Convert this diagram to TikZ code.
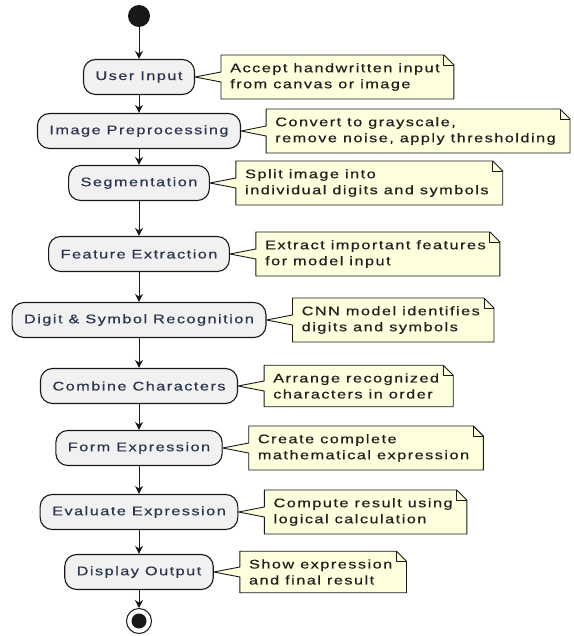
\documentclass[tikz,border=0pt]{standalone}
\usepackage{fontspec}
\newfontfamily\umlfont[FakeStretch=1.3,LetterSpace=12,FakeBold=0.5]{Liberation Sans}
\usetikzlibrary{positioning,arrows.meta,backgrounds}
\definecolor{actfill}{HTML}{F1F1F1}
\definecolor{actline}{HTML}{181818}
\definecolor{acttext}{HTML}{2A3650}
\definecolor{notefill}{HTML}{FEFFDD}

\begin{document}
\begin{tikzpicture}[x=1pt,y=1pt,node distance=26pt,
    action/.style={draw=actline, fill=actfill, line width=1.1pt, rounded corners=12pt,
      minimum height=35pt, inner xsep=12pt, text=acttext,
      font=\umlfont\fontsize{12.5}{16}\selectfont},
    note/.style={inner xsep=9pt, inner ysep=8pt, align=left, text=black!88,
      font=\umlfont\fontsize{12.5}{16}\selectfont},
    notebody/.style={draw=actline, fill=notefill, line width=0.9pt, line join=round},
    flow/.style={-{Stealth[length=8pt,width=8pt]}, line width=1pt, draw=actline}]
    \useasboundingbox (0,0) rectangle (573,-636);

    \node[circle, fill=actline, minimum size=22pt, inner sep=0pt] (start) at (139,-16) {};
    \node[action] (ui) at (139,-77) {User Input};
    \node[action] (prep) at (139,-131) {Image Preprocessing};
    \node[action] (seg) at (139,-183) {Segmentation};
    \node[action] (feat) at (139,-254) {Feature Extraction};
    \node[action] (recog) at (139,-320) {Digit \& Symbol Recognition};
    \node[action] (comb) at (139,-386) {Combine Characters};
    \node[action] (form) at (139,-448) {Form Expression};
    \node[action] (eval) at (139,-512) {Evaluate Expression};
    \node[action] (disp) at (139,-572) {Display Output};
    \node[circle, draw=actline, fill=white, line width=1pt, minimum size=25pt, inner sep=0pt,
      path picture={\fill[actline] (path picture bounding box.center) circle (7.5pt);}] (stop) at (139,-621) {};

    % notes
    \node[note, right=of ui] (nui) {Accept handwritten input\\from canvas or image};
    \node[note, right=25pt of prep] (nprep) {Convert to grayscale,\\remove noise, apply thresholding};
    \node[note, right=of seg] (nseg) {Split image into\\individual digits and symbols};
    \node[note, right=of feat] (nfeat) {Extract important features\\for model input};
    \node[note, right=of recog] (nrecog) {CNN model identifies\\digits and symbols};
    \node[note, right=of comb] (ncomb) {Arrange recognized\\characters in order};
    \node[note, right=of form] (nform) {Create complete\\mathematical expression};
    \node[note, right=of eval] (neval) {Compute result using\\logical calculation};
    \node[note, right=of disp] (ndisp) {Show expression\\and final result};

    \begin{scope}[on background layer]
    \foreach \n/\b in {nui/ui, nprep/prep, nseg/seg, nfeat/feat, nrecog/recog,
                       ncomb/comb, nform/form, neval/eval, ndisp/disp} {
      \draw[notebody] (\n.north west) -- ([xshift=-5pt]\n.north east)
        -- ([xshift=5pt,yshift=-10pt]\n.north east) -- ([xshift=5pt]\n.south east) -- (\n.south west)
        -- ([yshift=-5pt]\n.west) -- (\b.east) -- ([yshift=5pt]\n.west) -- cycle;
      \draw[notebody, fill=none] ([xshift=-5pt]\n.north east) |- ([xshift=5pt,yshift=-10pt]\n.north east);
    }
    \end{scope}

    \foreach \a/\b in {start/ui, ui/prep, prep/seg, seg/feat, feat/recog,
                       recog/comb, comb/form, form/eval, eval/disp, disp/stop}
      \draw[flow] (\a) -- (\b);
\end{tikzpicture}
\end{document}
